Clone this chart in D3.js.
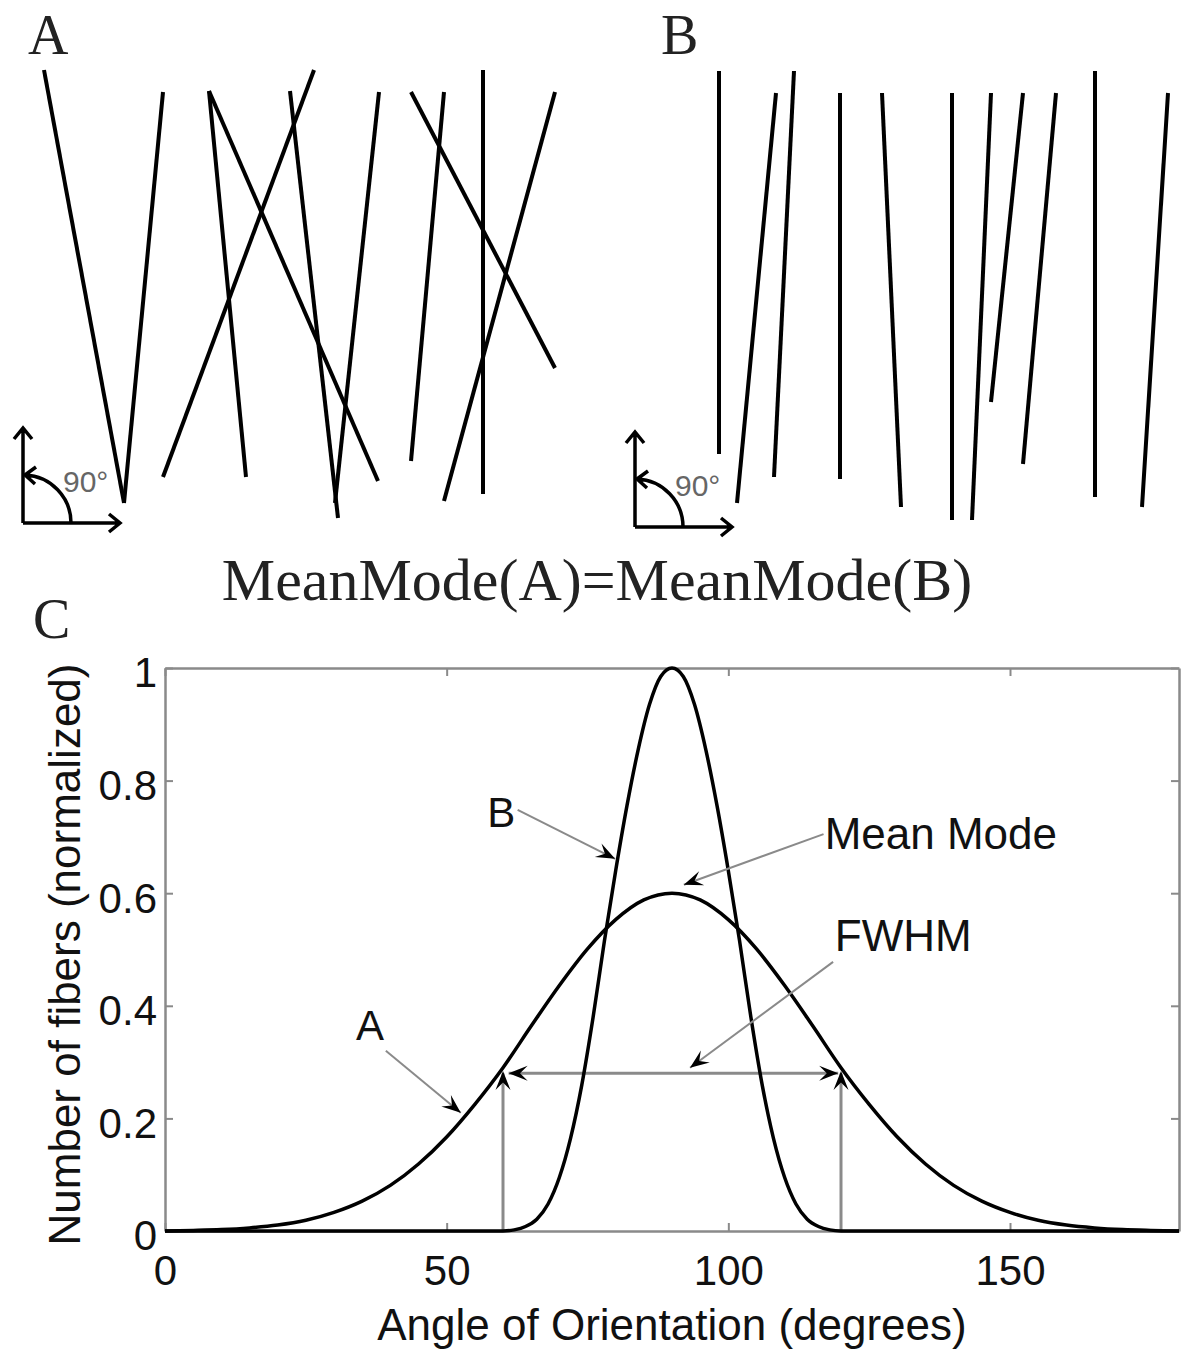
<!DOCTYPE html>
<html>
<head>
<meta charset="utf-8">
<script src="https://cdn.jsdelivr.net/npm/d3@7"></script>
<style>
  body { margin: 0; background: #fff; }
  svg { display: block; }
</style>
</head>
<body>
<div id="chart"></div>
<script>
'use strict'

const width = 1184
const height = 1353

// panel C: orientation distributions (angle in degrees, normalized count)
const angleA = [0, 5, 10, 15, 20, 25, 30, 35, 40, 45, 50, 55, 60, 65, 70, 75, 80, 85, 90,
  95, 100, 105, 110, 115, 120, 125, 130, 135, 140, 145, 150, 155, 160, 165, 170, 175, 180]
const countA = [0, 0.001, 0.0025, 0.0055, 0.0105, 0.019, 0.033, 0.053, 0.081, 0.119, 0.167, 0.225, 0.29, 0.364, 0.436, 0.501, 0.553, 0.588, 0.6,
  0.588, 0.553, 0.501, 0.436, 0.364, 0.29, 0.225, 0.167, 0.119, 0.081, 0.053, 0.033, 0.019, 0.0105, 0.0055, 0.0025, 0.001, 0]

const angleB = [0, 20, 40, 50, 56, 58, 60, 62, 64, 66, 68, 70, 72, 74, 76, 78, 80, 82, 84, 86, 88, 90,
  92, 94, 96, 98, 100, 102, 104, 106, 108, 110, 112, 114, 116, 118, 120, 122, 124, 130, 140, 160, 180]
const countB = [0, 0, 0, 0, 0, 0, 0, 0.002, 0.008, 0.021, 0.048, 0.095, 0.165, 0.26, 0.38, 0.515, 0.64, 0.755, 0.855, 0.935, 0.985, 1,
  0.985, 0.935, 0.855, 0.755, 0.64, 0.515, 0.38, 0.26, 0.165, 0.095, 0.048, 0.021, 0.008, 0.002, 0, 0, 0, 0, 0, 0, 0]

const xTicks = [0, 50, 100, 150]
const yTicks = [0, 0.2, 0.4, 0.6, 0.8, 1]

// full width at half maximum of A
const fwhmEdges = [60, 120]
const halfMax = 0.28

// callouts: text, text anchor, arrow start, arrow tip (angle, value)
const calloutText = ['B', 'A', 'Mean Mode', 'FWHM']
const calloutAt = [[57.2, 0.718], [33.9, 0.339], [117.1, 0.678], [118.9, 0.497]]
const calloutFrom = [[62.6, 0.748], [39.2, 0.32], [116.9, 0.705], [118.6, 0.478]]
const calloutTo = [[79.9, 0.661], [52.5, 0.21], [92.1, 0.615], [93.2, 0.29]]

// panels A and B: fiber end points [x1, y1, x2, y2] in panel units
const fibersA = [
  [44, 70, 124, 503], [163, 92, 124, 503], [163, 477, 314, 70], [209, 91, 246, 477],
  [209, 91, 378, 481], [290, 91, 338, 518], [379, 92, 335, 503], [444, 92, 411, 461],
  [411, 92, 555, 368], [483, 70, 483, 494], [555, 92, 444, 501]
]
const fibersB = [
  [119, 71, 119, 454], [176, 93, 137, 503], [194, 71, 174, 477], [240, 93, 240, 479],
  [282, 93, 301, 507], [352, 93, 352, 520], [391, 93, 372, 520], [423, 93, 391, 402],
  [456, 93, 423, 464], [495, 71, 495, 497], [568, 93, 542, 507]
]

const sans = '"Liberation Sans", Arial, Helvetica, sans-serif'
const serif = '"Liberation Serif", "Times New Roman", serif'
const gray = '#8a8a8a'

const svg = d3.select('#chart')
  .append('svg')
    .attr('width', width)
    .attr('height', height)

svg.append('rect')
  .attr('width', width)
  .attr('height', height)
  .attr('fill', '#fff')

// ---------- panels A and B ----------
function drawFiberPanel (fibers, left, label) {
  const fx = d3.scaleLinear().domain([0, 584]).range([left, left + 584])
  const fy = d3.scaleLinear().domain([0, 540]).range([0, 540])
  const g = svg.append('g')

  g.append('text')
    .attr('x', fx(label === 'A' ? 28 : 61))
    .attr('y', 54)
    .attr('font-family', serif)
    .attr('font-size', 56)
    .attr('fill', '#222')
    .text(label)

  g.selectAll('line.fiber')
    .data(fibers)
    .join('line')
      .attr('class', 'fiber')
      .attr('x1', d => fx(d[0]))
      .attr('y1', d => fy(d[1]))
      .attr('x2', d => fx(d[2]))
      .attr('y2', d => fy(d[3]))
      .attr('stroke', '#000')
      .attr('stroke-width', 4)
      .attr('stroke-linecap', 'butt')

  // reference axes with the 90 degree arc
  const cx = fx(label === 'A' ? 23 : 35)
  const cy = fy(label === 'A' ? 523 : 527)
  const r = 48
  const add = (d) => g.append('path')
    .attr('d', d)
    .attr('stroke', '#000')
    .attr('stroke-width', 3.5)
    .attr('fill', 'none')
  add(`M${cx},${cy}V${cy - 95}M${cx - 9},${cy - 84}L${cx},${cy - 95}L${cx + 9},${cy - 84}`)
  add(`M${cx},${cy}H${cx + 97}M${cx + 86},${cy - 9}L${cx + 97},${cy}L${cx + 86},${cy + 9}`)
  add(`M${cx + r},${cy}A${r},${r} 0 0 0 ${cx + 2},${cy - r}M${cx + 13},${cy - r - 8}L${cx + 2},${cy - r}L${cx + 12},${cy - r + 9}`)

  g.append('text')
    .attr('x', cx + 40)
    .attr('y', cy - 31)
    .attr('font-family', sans)
    .attr('font-size', 30)
    .attr('fill', '#666')
    .text('90°')
}

drawFiberPanel(fibersA, 0, 'A')
drawFiberPanel(fibersB, 600, 'B')

svg.append('text')
  .attr('x', 597)
  .attr('y', 600)
  .attr('text-anchor', 'middle')
  .attr('font-family', serif)
  .attr('font-size', 60)
  .attr('fill', '#222')
  .text('MeanMode(A)=MeanMode(B)')

svg.append('text')
  .attr('x', 33)
  .attr('y', 638)
  .attr('font-family', serif)
  .attr('font-size', 56)
  .attr('fill', '#222')
  .text('C')

// ---------- panel C ----------
const x = d3.scaleLinear().domain([0, 180]).range([165, 1179])
const y = d3.scaleLinear().domain([0, 1]).range([1231, 668])

function styleAxis (g) {
  g.select('.domain').attr('stroke', gray).attr('stroke-width', 2.5)
  g.selectAll('.tick line').attr('stroke', gray).attr('stroke-width', 2)
  g.selectAll('.tick text')
    .attr('fill', '#111')
    .attr('font-family', sans)
    .attr('font-size', 42)
}

svg.append('g')
  .attr('transform', `translate(0,${y(0)})`)
  .call(d3.axisBottom(x).tickValues(xTicks).tickSize(-8).tickSizeOuter(0).tickPadding(24))
  .call(styleAxis)

svg.append('g')
  .attr('transform', `translate(0,${y(1)})`)
  .call(d3.axisTop(x).tickValues(xTicks).tickSize(-8).tickSizeOuter(0).tickFormat(''))
  .call(styleAxis)

svg.append('g')
  .attr('transform', `translate(${x(0)},0)`)
  .call(d3.axisLeft(y).tickValues(yTicks).tickSize(-8).tickSizeOuter(0).tickPadding(8).tickFormat(d3.format('')))
  .call(styleAxis)
  .call(g => g.selectAll('.tick text').attr('dy', '0.45em'))

svg.append('g')
  .attr('transform', `translate(${x(180)},0)`)
  .call(d3.axisRight(y).tickValues(yTicks).tickSize(-8).tickSizeOuter(0).tickFormat(''))
  .call(styleAxis)

svg.append('text')
  .attr('x', (x(0) + x(180)) / 2)
  .attr('y', 1340)
  .attr('text-anchor', 'middle')
  .attr('font-family', sans)
  .attr('font-size', 44)
  .attr('fill', '#111')
  .text('Angle of Orientation (degrees)')

svg.append('text')
  .attr('transform', `translate(80,${(y(0) + y(1)) / 2 + 5}) rotate(-90)`)
  .attr('text-anchor', 'middle')
  .attr('font-family', sans)
  .attr('font-size', 44)
  .attr('fill', '#111')
  .text('Number of fibers (normalized)')

// arrowhead in the MATLAB style, tip at `to`, pointing away from `from`
function arrowHead (g, from, to, len = 19, half = 7.5) {
  const a = Math.atan2(to[1] - from[1], to[0] - from[0])
  const c = Math.cos(a)
  const s = Math.sin(a)
  const bx = to[0] - len * c
  const by = to[1] - len * s
  const nx = to[0] - 0.6 * len * c
  const ny = to[1] - 0.6 * len * s
  g.append('path')
    .attr('d', `M${to[0]},${to[1]}L${bx - half * s},${by + half * c}L${nx},${ny}L${bx + half * s},${by - half * c}Z`)
    .attr('fill', '#000')
}

// FWHM markers
const fwhm = svg.append('g')
fwhmEdges.forEach(a => {
  fwhm.append('line')
    .attr('x1', x(a)).attr('x2', x(a))
    .attr('y1', y(0)).attr('y2', y(halfMax))
    .attr('stroke', gray).attr('stroke-width', 3)
})
fwhm.append('line')
  .attr('x1', x(fwhmEdges[0] + 1)).attr('x2', x(fwhmEdges[1] - 0.5))
  .attr('y1', y(halfMax)).attr('y2', y(halfMax))
  .attr('stroke', gray).attr('stroke-width', 3)

// curves
const line = d3.line()
  .x(d => x(d[0]))
  .y(d => y(d[1]))
  .curve(d3.curveMonotoneX)

svg.append('path')
  .datum(d3.zip(angleA, countA))
  .attr('d', line)
  .attr('fill', 'none')
  .attr('stroke', '#000')
  .attr('stroke-width', 3.5)

svg.append('path')
  .datum(d3.zip(angleB, countB))
  .attr('d', line)
  .attr('fill', 'none')
  .attr('stroke', '#000')
  .attr('stroke-width', 3.5)

// FWHM arrowheads
const heads = svg.append('g')
arrowHead(heads, [x(fwhmEdges[1]), y(halfMax)], [x(fwhmEdges[0] + 1), y(halfMax)])
arrowHead(heads, [x(fwhmEdges[0]), y(halfMax)], [x(fwhmEdges[1] - 0.5), y(halfMax)])
fwhmEdges.forEach(a => arrowHead(heads, [x(a), y(0)], [x(a), y(halfMax + 0.004)]))

// callouts
const notes = svg.append('g')
calloutText.forEach((t, i) => {
  const from = [x(calloutFrom[i][0]), y(calloutFrom[i][1])]
  const to = [x(calloutTo[i][0]), y(calloutTo[i][1])]
  notes.append('line')
    .attr('x1', from[0]).attr('y1', from[1])
    .attr('x2', to[0]).attr('y2', to[1])
    .attr('stroke', gray)
    .attr('stroke-width', 2)
  arrowHead(notes, from, to)
  notes.append('text')
    .attr('x', x(calloutAt[i][0]))
    .attr('y', y(calloutAt[i][1]))
    .attr('font-family', sans)
    .attr('font-size', t.length > 1 ? 44 : 42)
    .attr('fill', '#111')
    .text(t)
})
</script>
</body>
</html>
